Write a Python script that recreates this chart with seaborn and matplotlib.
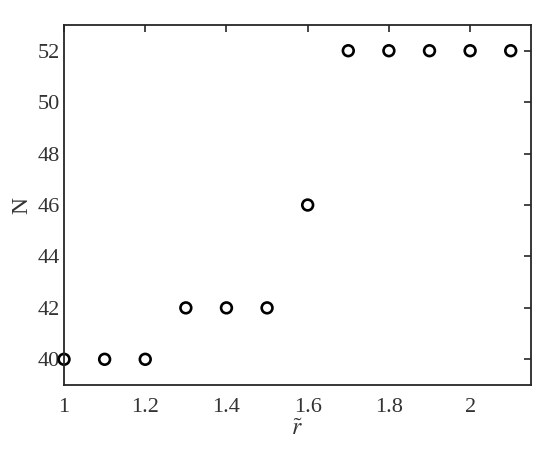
import seaborn as sns
import pandas as pd
import matplotlib.pyplot as plt

# datos
r_tilde = [1.0, 1.1, 1.2, 1.3, 1.4, 1.5, 1.6, 1.7, 1.8, 1.9, 2.0, 2.1]
n_vals = [40, 40, 40, 42, 42, 42, 46, 52, 52, 52, 52, 52]
x_ticks = [1, 1.2, 1.4, 1.6, 1.8, 2]
x_tick_labels = ['1', '1.2', '1.4', '1.6', '1.8', '2']
y_ticks = [40, 42, 44, 46, 48, 50, 52]

df = pd.DataFrame({'r': r_tilde, 'N': n_vals})

sns.set_style('white')
plt.rcParams['font.family'] = ['Liberation Serif', 'DejaVu Serif']
plt.rcParams['mathtext.fontset'] = 'stix'

fig = plt.figure(figsize=(5.5, 4.49), dpi=100)
ax = fig.add_axes([0.1164, 0.1425, 0.8491, 0.8018])

sns.scatterplot(x='r', y='N', data=df, ax=ax, marker='o', s=60,
                facecolor='none', edgecolor='black', linewidth=1.9, clip_on=False)

ax.set_xlim(1, 2.15)
ax.set_ylim(39, 53)
ax.set_xticks(x_ticks)
ax.set_xticklabels(x_tick_labels)
ax.set_yticks(y_ticks)

ax.tick_params(direction='in', length=5, width=1.2, top=True, right=True,
               labelsize=16, labelcolor='#333333', colors='#262626')
ax.tick_params(axis='x', pad=9)
ax.tick_params(axis='y', pad=3)
for s in ax.spines.values():
    s.set_color('#262626')
    s.set_linewidth(1.3)

ax.set_xlabel(r'$\tilde{r}$', fontsize=17, color='#333333', labelpad=2)
ax.set_ylabel('N', fontsize=17, color='#333333', labelpad=4)

plt.savefig('out.png', dpi=100)
